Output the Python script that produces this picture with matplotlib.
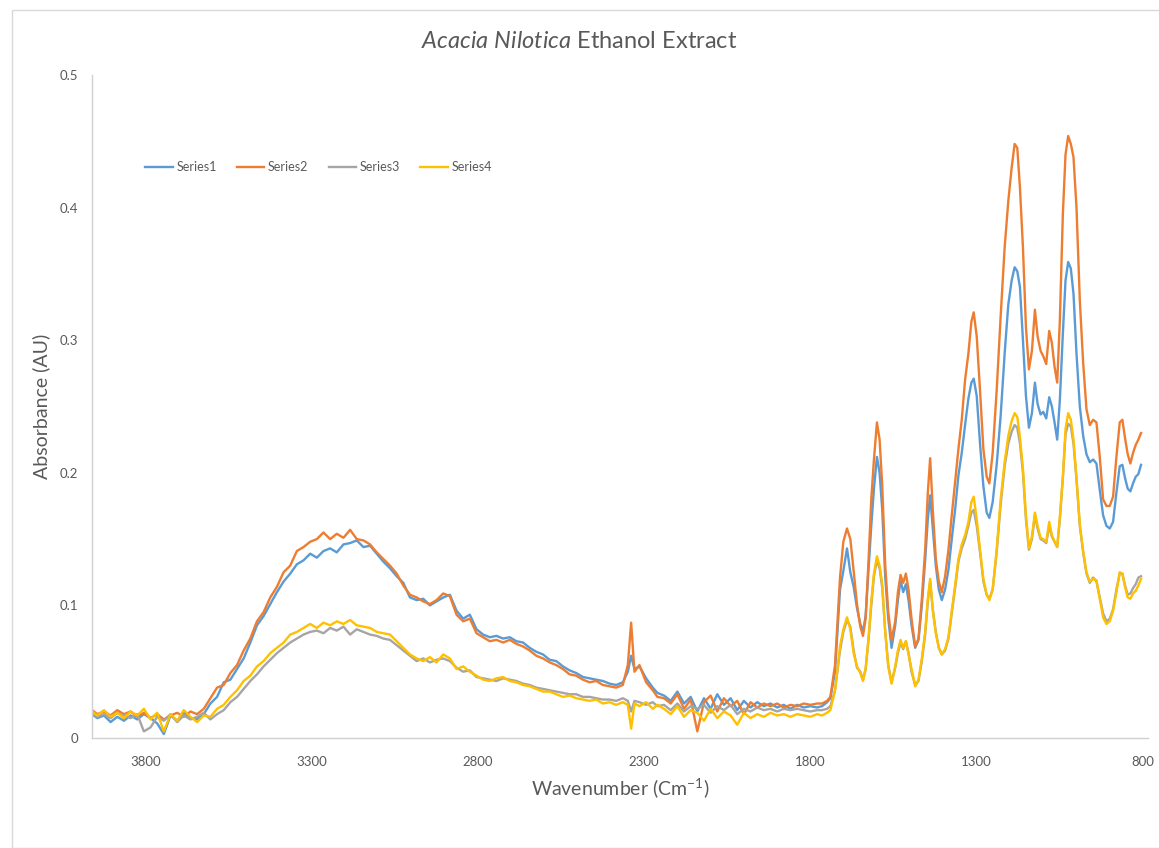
import matplotlib
matplotlib.use("Agg")
import matplotlib.pyplot as plt
from matplotlib.patches import Rectangle

plt.rcParams['font.family'] = ['Lato', 'DejaVu Sans']
plt.rcParams['mathtext.fontset'] = 'custom'
plt.rcParams['mathtext.rm'] = 'Lato'
plt.rcParams['mathtext.it'] = 'Lato:italic'

# ---------------- data ----------------
wavenumber = [
    3960, 3944, 3924, 3904, 3884, 3864, 3844, 3824, 3804, 3784, 3764, 3744, 3724, 3704, 3684, 3664, 3644, 3624,
    3604, 3584, 3564, 3544, 3524, 3504, 3484, 3464, 3444, 3424, 3404, 3384, 3364, 3344, 3324, 3304, 3284, 3264,
    3244, 3224, 3204, 3184, 3164, 3144, 3124, 3104, 3084,
    3064, 3044, 3024, 3004, 2984, 2964, 2944, 2924, 2904, 2884, 2864, 2844, 2824, 2804, 2784, 2764, 2744, 2724,
    2704, 2684, 2664, 2644, 2624, 2604, 2584, 2564, 2544, 2524, 2504, 2484, 2464, 2444, 2424, 2404, 2384,
    2364, 2349, 2339, 2329, 2314, 2294, 2274, 2260,
    2240, 2220, 2200, 2180, 2160, 2140, 2120, 2100, 2080, 2060, 2040, 2020, 2000, 1980, 1960, 1940, 1920, 1900,
    1880, 1860, 1840, 1820, 1800, 1780,
    1765, 1750, 1740, 1726, 1711, 1701, 1690, 1680, 1670, 1660, 1650, 1642, 1634, 1625, 1617, 1609, 1600, 1592,
    1584, 1575, 1566, 1556, 1545, 1537, 1529, 1521, 1513, 1505, 1496, 1485, 1475, 1465, 1455, 1447, 1440, 1432,
    1423, 1414, 1405, 1395, 1385, 1375, 1365, 1355, 1345, 1335, 1325, 1316, 1309, 1300, 1290, 1280, 1270, 1262,
    1252, 1240, 1228, 1216, 1205, 1195, 1186, 1178, 1170, 1161, 1152, 1143, 1134, 1125, 1117, 1108, 1100, 1091,
    1082, 1074, 1066, 1058, 1050, 1041, 1033, 1025, 1017, 1009, 1000, 990, 980, 970, 960, 950, 940, 930,
    920, 910, 900, 890, 880, 870, 862, 854, 846, 838, 830, 822, 814, 806,
]

series1 = [
    0.018, 0.015, 0.017, 0.012, 0.016, 0.013, 0.017, 0.014, 0.018, 0.015, 0.011, 0.003, 0.017, 0.013, 0.019, 0.015, 0.014, 0.018,
    0.026, 0.031, 0.042, 0.044, 0.052, 0.060, 0.072, 0.085, 0.092, 0.101, 0.110, 0.118, 0.124, 0.131, 0.134, 0.139, 0.136, 0.141,
    0.143, 0.140, 0.146, 0.147, 0.149, 0.144, 0.145, 0.139, 0.133,
    0.128, 0.122, 0.117, 0.106, 0.104, 0.105, 0.100, 0.103, 0.106, 0.108, 0.096, 0.090, 0.093, 0.082, 0.078, 0.076, 0.077, 0.075,
    0.076, 0.073, 0.072, 0.068, 0.065, 0.063, 0.059, 0.058, 0.054, 0.051, 0.049, 0.046, 0.045, 0.044, 0.043, 0.041, 0.040,
    0.042, 0.050, 0.062, 0.052, 0.054, 0.045, 0.038, 0.034,
    0.032, 0.028, 0.035, 0.026, 0.031, 0.020, 0.030, 0.022, 0.033, 0.025, 0.030, 0.021, 0.028, 0.023, 0.027, 0.024, 0.026, 0.023,
    0.025, 0.022, 0.025, 0.023, 0.024, 0.023,
    0.024, 0.027, 0.030, 0.050, 0.112, 0.126, 0.143, 0.125, 0.114, 0.098, 0.086, 0.080, 0.092, 0.128, 0.160, 0.188, 0.212, 0.200,
    0.172, 0.121, 0.090, 0.068, 0.085, 0.104, 0.119, 0.110, 0.116, 0.104, 0.085, 0.068, 0.074, 0.100, 0.134, 0.165, 0.183, 0.158,
    0.130, 0.112, 0.104, 0.112, 0.127, 0.150, 0.172, 0.198, 0.215, 0.236, 0.256, 0.268, 0.271, 0.258, 0.222, 0.190, 0.170, 0.166,
    0.178, 0.206, 0.243, 0.290, 0.327, 0.345, 0.355, 0.352, 0.340, 0.300, 0.258, 0.234, 0.245, 0.268, 0.252, 0.244, 0.246, 0.241,
    0.257, 0.250, 0.238, 0.225, 0.255, 0.305, 0.345, 0.359, 0.354, 0.335, 0.290, 0.250, 0.228, 0.214, 0.208, 0.210, 0.207, 0.187,
    0.168, 0.160, 0.158, 0.163, 0.185, 0.205, 0.206, 0.196, 0.188, 0.186, 0.192, 0.197, 0.199, 0.206,
]

series2 = [
    0.021, 0.018, 0.020, 0.017, 0.021, 0.018, 0.020, 0.016, 0.019, 0.015, 0.018, 0.014, 0.017, 0.019, 0.016, 0.020, 0.018, 0.022,
    0.030, 0.038, 0.040, 0.049, 0.055, 0.066, 0.075, 0.088, 0.095, 0.106, 0.114, 0.125, 0.130, 0.141, 0.144, 0.148, 0.150, 0.155,
    0.150, 0.154, 0.151, 0.157, 0.150, 0.149, 0.146, 0.140, 0.135,
    0.130, 0.124, 0.115, 0.108, 0.106, 0.103, 0.101, 0.104, 0.109, 0.107, 0.093, 0.088, 0.090, 0.079, 0.076, 0.073, 0.074, 0.072,
    0.074, 0.071, 0.069, 0.066, 0.062, 0.060, 0.057, 0.055, 0.052, 0.048, 0.047, 0.044, 0.042, 0.043, 0.040, 0.039, 0.038,
    0.040, 0.055, 0.087, 0.050, 0.055, 0.042, 0.036, 0.031,
    0.030, 0.026, 0.033, 0.022, 0.029, 0.005, 0.027, 0.032, 0.020, 0.030, 0.024, 0.028, 0.018, 0.027, 0.023, 0.026, 0.024, 0.026,
    0.023, 0.025, 0.024, 0.026, 0.025, 0.026,
    0.026, 0.028, 0.031, 0.055, 0.121, 0.148, 0.158, 0.150, 0.126, 0.101, 0.084, 0.077, 0.090, 0.135, 0.180, 0.210, 0.238, 0.225,
    0.190, 0.130, 0.095, 0.074, 0.088, 0.110, 0.123, 0.117, 0.124, 0.112, 0.090, 0.069, 0.075, 0.105, 0.142, 0.185, 0.211, 0.172,
    0.135, 0.118, 0.110, 0.122, 0.142, 0.168, 0.193, 0.218, 0.240, 0.270, 0.290, 0.314, 0.321, 0.303, 0.262, 0.218, 0.197, 0.192,
    0.215, 0.262, 0.318, 0.370, 0.405, 0.430, 0.448, 0.445, 0.415, 0.370, 0.310, 0.278, 0.292, 0.323, 0.303, 0.292, 0.288, 0.282,
    0.307, 0.298, 0.280, 0.268, 0.315, 0.395, 0.440, 0.454, 0.448, 0.438, 0.400, 0.330, 0.283, 0.248, 0.236, 0.240, 0.238, 0.212,
    0.180, 0.175, 0.175, 0.182, 0.212, 0.238, 0.240, 0.226, 0.214, 0.207, 0.215, 0.221, 0.225, 0.230,
]

series3 = [
    0.019, 0.016, 0.018, 0.015, 0.019, 0.017, 0.015, 0.018, 0.005, 0.008, 0.016, 0.013, 0.018, 0.012, 0.017, 0.014, 0.016, 0.019,
    0.014, 0.018, 0.021, 0.027, 0.031, 0.037, 0.043, 0.048, 0.054, 0.059, 0.064, 0.068, 0.072, 0.075, 0.078, 0.080, 0.081, 0.079,
    0.083, 0.081, 0.084, 0.078, 0.082, 0.080, 0.078, 0.077, 0.075,
    0.074, 0.070, 0.066, 0.062, 0.058, 0.060, 0.057, 0.059, 0.060, 0.058, 0.053, 0.050, 0.051, 0.046, 0.045, 0.044, 0.043, 0.045,
    0.044, 0.043, 0.041, 0.040, 0.038, 0.037, 0.036, 0.035, 0.034, 0.033, 0.033, 0.031, 0.031, 0.030, 0.029, 0.029, 0.028,
    0.030, 0.028, 0.020, 0.028, 0.027, 0.025, 0.027, 0.024,
    0.025, 0.021, 0.026, 0.020, 0.024, 0.022, 0.025, 0.019, 0.024, 0.021, 0.025, 0.018, 0.022, 0.020, 0.023, 0.021, 0.022, 0.020,
    0.022, 0.021, 0.022, 0.021, 0.020, 0.021,
    0.021, 0.022, 0.024, 0.036, 0.066, 0.080, 0.089, 0.084, 0.066, 0.053, 0.050, 0.044, 0.052, 0.075, 0.100, 0.122, 0.134, 0.128,
    0.113, 0.080, 0.055, 0.042, 0.053, 0.064, 0.072, 0.067, 0.073, 0.064, 0.050, 0.040, 0.043, 0.058, 0.078, 0.103, 0.118, 0.097,
    0.080, 0.068, 0.063, 0.066, 0.075, 0.094, 0.113, 0.133, 0.143, 0.150, 0.160, 0.170, 0.172, 0.160, 0.140, 0.118, 0.108, 0.105,
    0.112, 0.140, 0.176, 0.205, 0.222, 0.231, 0.236, 0.234, 0.222, 0.200, 0.165, 0.142, 0.150, 0.168, 0.158, 0.150, 0.149, 0.147,
    0.160, 0.152, 0.148, 0.144, 0.165, 0.196, 0.229, 0.237, 0.235, 0.222, 0.195, 0.160, 0.140, 0.124, 0.117, 0.121, 0.118, 0.106,
    0.094, 0.088, 0.090, 0.097, 0.112, 0.124, 0.124, 0.115, 0.108, 0.109, 0.113, 0.116, 0.121, 0.122,
]

series4 = [
    0.020, 0.017, 0.021, 0.016, 0.019, 0.015, 0.020, 0.017, 0.022, 0.014, 0.019, 0.005, 0.018, 0.013, 0.021, 0.016, 0.012, 0.017,
    0.016, 0.022, 0.025, 0.031, 0.036, 0.043, 0.047, 0.054, 0.058, 0.064, 0.068, 0.072, 0.078, 0.080, 0.083, 0.086, 0.083, 0.087,
    0.085, 0.088, 0.086, 0.089, 0.085, 0.084, 0.083, 0.080, 0.079,
    0.078, 0.073, 0.068, 0.063, 0.060, 0.058, 0.061, 0.057, 0.063, 0.060, 0.052, 0.054, 0.050, 0.047, 0.044, 0.043, 0.045, 0.046,
    0.043, 0.042, 0.040, 0.039, 0.037, 0.035, 0.035, 0.033, 0.031, 0.032, 0.030, 0.029, 0.028, 0.029, 0.026, 0.027, 0.025,
    0.027, 0.025, 0.007, 0.026, 0.024, 0.027, 0.022, 0.025,
    0.022, 0.018, 0.024, 0.016, 0.021, 0.019, 0.013, 0.022, 0.015, 0.020, 0.017, 0.010, 0.019, 0.015, 0.018, 0.016, 0.019, 0.017,
    0.018, 0.016, 0.018, 0.017, 0.016, 0.018,
    0.017, 0.019, 0.021, 0.036, 0.069, 0.082, 0.091, 0.082, 0.064, 0.054, 0.049, 0.043, 0.052, 0.076, 0.103, 0.124, 0.137, 0.130,
    0.116, 0.080, 0.054, 0.041, 0.054, 0.066, 0.074, 0.068, 0.073, 0.063, 0.052, 0.039, 0.044, 0.060, 0.080, 0.105, 0.120, 0.096,
    0.079, 0.068, 0.063, 0.067, 0.076, 0.096, 0.115, 0.135, 0.146, 0.153, 0.163, 0.178, 0.182, 0.165, 0.142, 0.120, 0.108, 0.104,
    0.112, 0.142, 0.180, 0.208, 0.228, 0.239, 0.245, 0.242, 0.227, 0.203, 0.168, 0.143, 0.152, 0.170, 0.160, 0.151, 0.150, 0.148,
    0.163, 0.153, 0.148, 0.144, 0.167, 0.197, 0.233, 0.245, 0.240, 0.225, 0.196, 0.161, 0.141, 0.125, 0.118, 0.120, 0.119, 0.105,
    0.091, 0.086, 0.088, 0.096, 0.110, 0.125, 0.124, 0.114, 0.106, 0.105, 0.109, 0.111, 0.115, 0.120,
]

series_names = ["Series1", "Series2", "Series3", "Series4"]
series_values = [series1, series2, series3, series4]
series_colors = ["#5B9BD5", "#ED7D31", "#A5A5A5", "#FFC000"]

x_ticks = [3800, 3300, 2800, 2300, 1800, 1300, 800]
y_ticks = [0, 0.1, 0.2, 0.3, 0.4, 0.5]
y_tick_labels = ["0", "0.1", "0.2", "0.3", "0.4", "0.5"]

# ---------------- figure ----------------
W, H = 1159, 848
fig = plt.figure(figsize=(W / 100, H / 100), dpi=100)
fig.patch.set_facecolor("white")

# chart-area border (Excel style)
fig.patches.append(Rectangle((12 / W, 0), 1.2, 1 - 10 / H, transform=fig.transFigure,
                             fill=False, edgecolor="#D9D9D9", linewidth=1.0))

ax = fig.add_axes([92 / W, 1 - 738 / H, (1148 - 92) / W, (738 - 75) / H])

for name, vals, col in zip(series_names, series_values, series_colors):
    assert len(vals) == len(wavenumber), name
    ax.plot(wavenumber, vals, color=col, linewidth=1.7, label=name, solid_joinstyle="round")

ax.set_xlim(3960, 785)
ax.set_ylim(0, 0.5)
ax.set_xticks(x_ticks)
ax.set_xticklabels([str(t) for t in x_ticks])
ax.set_yticks(y_ticks)
ax.set_yticklabels(y_tick_labels)

txt = "#595959"
ax.tick_params(axis="both", length=0, labelsize=9.5, labelcolor=txt)
ax.tick_params(axis="x", pad=13)
ax.tick_params(axis="y", pad=10)
for s in ["top", "right"]:
    ax.spines[s].set_visible(False)
for s in ["left", "bottom"]:
    ax.spines[s].set_color("#D0D0D0")
    ax.spines[s].set_linewidth(1.0)

ax.set_xlabel(r"Wavenumber (Cm$^{\mathregular{-1}}$)", fontsize=14, color=txt, labelpad=6)
ax.set_ylabel("Absorbance (AU)", fontsize=14, color=txt, labelpad=7)

fig.text(0.5, 1 - 41 / H, r"$\mathit{Acacia\ Nilotica}$ Ethanol Extract", ha="center", va="center",
         fontsize=17, color=txt)

leg = ax.legend(loc="center left", bbox_to_anchor=(42 / 1056, (738 - 167) / 663), ncol=4,
                frameon=False, fontsize=9, handlelength=2.2, columnspacing=1.6, handletextpad=0.3,
                labelcolor=txt)

fig.savefig("out.png", dpi=100, facecolor="white")
